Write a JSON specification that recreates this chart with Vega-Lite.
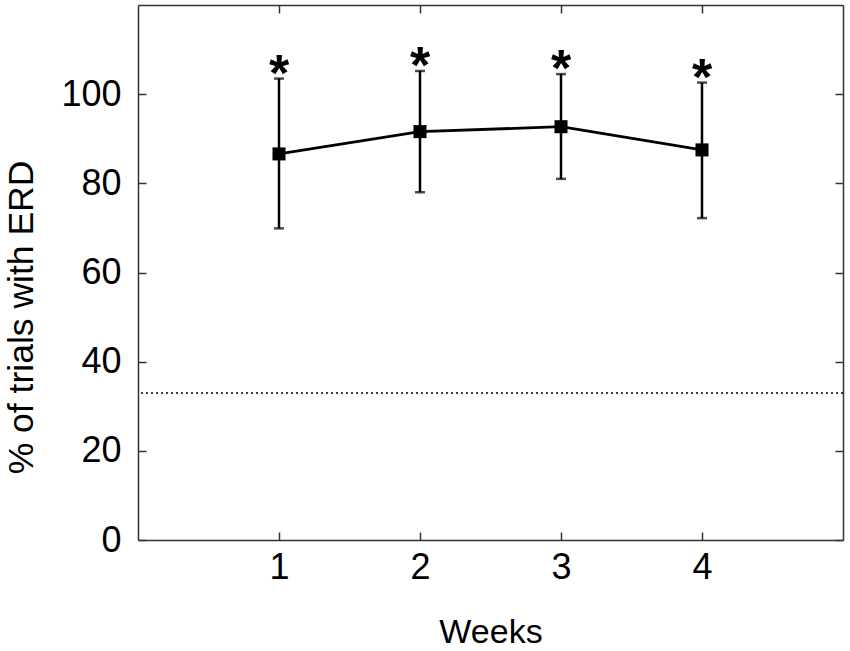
{
  "$schema": "https://vega.github.io/schema/vega-lite/v6.json",
  "width": 705,
  "height": 535,
  "autosize": "none",
  "padding": {"left": 138, "top": 5, "right": 7, "bottom": 111},
  "background": "white",
  "data": {
    "values": [
      {"week": 1, "mean": 86.6, "lo": 69.9, "hi": 103.5, "star": 106.3},
      {"week": 2, "mean": 91.6, "lo": 78.0, "hi": 105.2, "star": 108.2},
      {"week": 3, "mean": 92.7, "lo": 81.0, "hi": 104.5, "star": 107.5},
      {"week": 4, "mean": 87.5, "lo": 72.2, "hi": 102.6, "star": 105.4}
    ]
  },
  "layer": [
    {
      "mark": {"type": "rule", "strokeDash": [2, 3], "color": "black", "strokeWidth": 1.5},
      "data": {"values": [{"chance": 33}]},
      "encoding": {
        "y": {"field": "chance", "type": "quantitative", "axis": null}
      }
    },
    {
      "mark": {"type": "rule", "color": "black", "strokeWidth": 2.5},
      "encoding": {
        "x": {
          "field": "week", "type": "quantitative",
          "scale": {"domain": [0, 5], "nice": false},
          "axis": {"orient": "bottom", "values": [1, 2, 3, 4], "ticks": false, "labelPadding": 10, "title": "Weeks", "titlePadding": 30}
        },
        "y": {
          "field": "lo", "type": "quantitative",
          "scale": {"domain": [0, 120], "nice": false},
          "axis": {"orient": "left", "values": [0, 20, 40, 60, 80, 100], "ticks": false, "labelPadding": 17, "title": "% of trials with ERD", "titlePadding": 21, "titleY": 312, "titleFontSize": 35.5}
        },
        "y2": {"field": "hi"}
      }
    },
    {
      "mark": {"type": "tick", "orient": "horizontal", "color": "black", "size": 10, "thickness": 2.5},
      "encoding": {
        "x": {"field": "week", "type": "quantitative", "axis": {"orient": "top", "offset": -535, "values": [1, 2, 3, 4], "domain": false, "labels": false, "title": null}},
        "y": {"field": "lo", "type": "quantitative", "axis": {"orient": "right", "offset": -705, "values": [0, 20, 40, 60, 80, 100], "domain": false, "labels": false, "title": null}}
      }
    },
    {
      "mark": {"type": "tick", "orient": "horizontal", "color": "black", "size": 10, "thickness": 2.5},
      "encoding": {
        "x": {"field": "week", "type": "quantitative", "axis": {"orient": "bottom", "offset": -535, "values": [1, 2, 3, 4], "labels": false, "title": null}},
        "y": {"field": "hi", "type": "quantitative", "axis": {"orient": "left", "offset": -705, "values": [0, 20, 40, 60, 80, 100], "labels": false, "title": null}}
      }
    },
    {
      "mark": {"type": "line", "color": "black", "strokeWidth": 2.8},
      "encoding": {
        "x": {"field": "week", "type": "quantitative", "axis": null},
        "y": {"field": "mean", "type": "quantitative", "axis": null}
      }
    },
    {
      "mark": {"type": "square", "color": "black", "filled": true, "opacity": 1, "size": 170},
      "encoding": {
        "x": {"field": "week", "type": "quantitative", "axis": null},
        "y": {"field": "mean", "type": "quantitative", "axis": null}
      }
    },
    {
      "mark": {"type": "text", "text": "*", "font": "Liberation Sans", "fontSize": 52, "fontWeight": "bold", "baseline": "middle", "dy": 9, "color": "black"},
      "encoding": {
        "x": {"field": "week", "type": "quantitative", "axis": null},
        "y": {"field": "star", "type": "quantitative", "axis": null}
      }
    }
  ],
  "resolve": {"axis": {"x": "independent", "y": "independent"}},
  "config": {
    "view": {"stroke": null},
    "axis": {
      "grid": false,
      "domainColor": "#333333",
      "domainWidth": 1.5,
      "tickColor": "#333333",
      "tickWidth": 1.5,
      "tickSize": 8,
      "labelFont": "Liberation Sans",
      "labelFontSize": 36,
      "labelColor": "black",
      "titleFont": "Liberation Sans",
      "titleFontSize": 34,
      "titleFontWeight": "normal",
      "titleColor": "black"
    }
  }
}
